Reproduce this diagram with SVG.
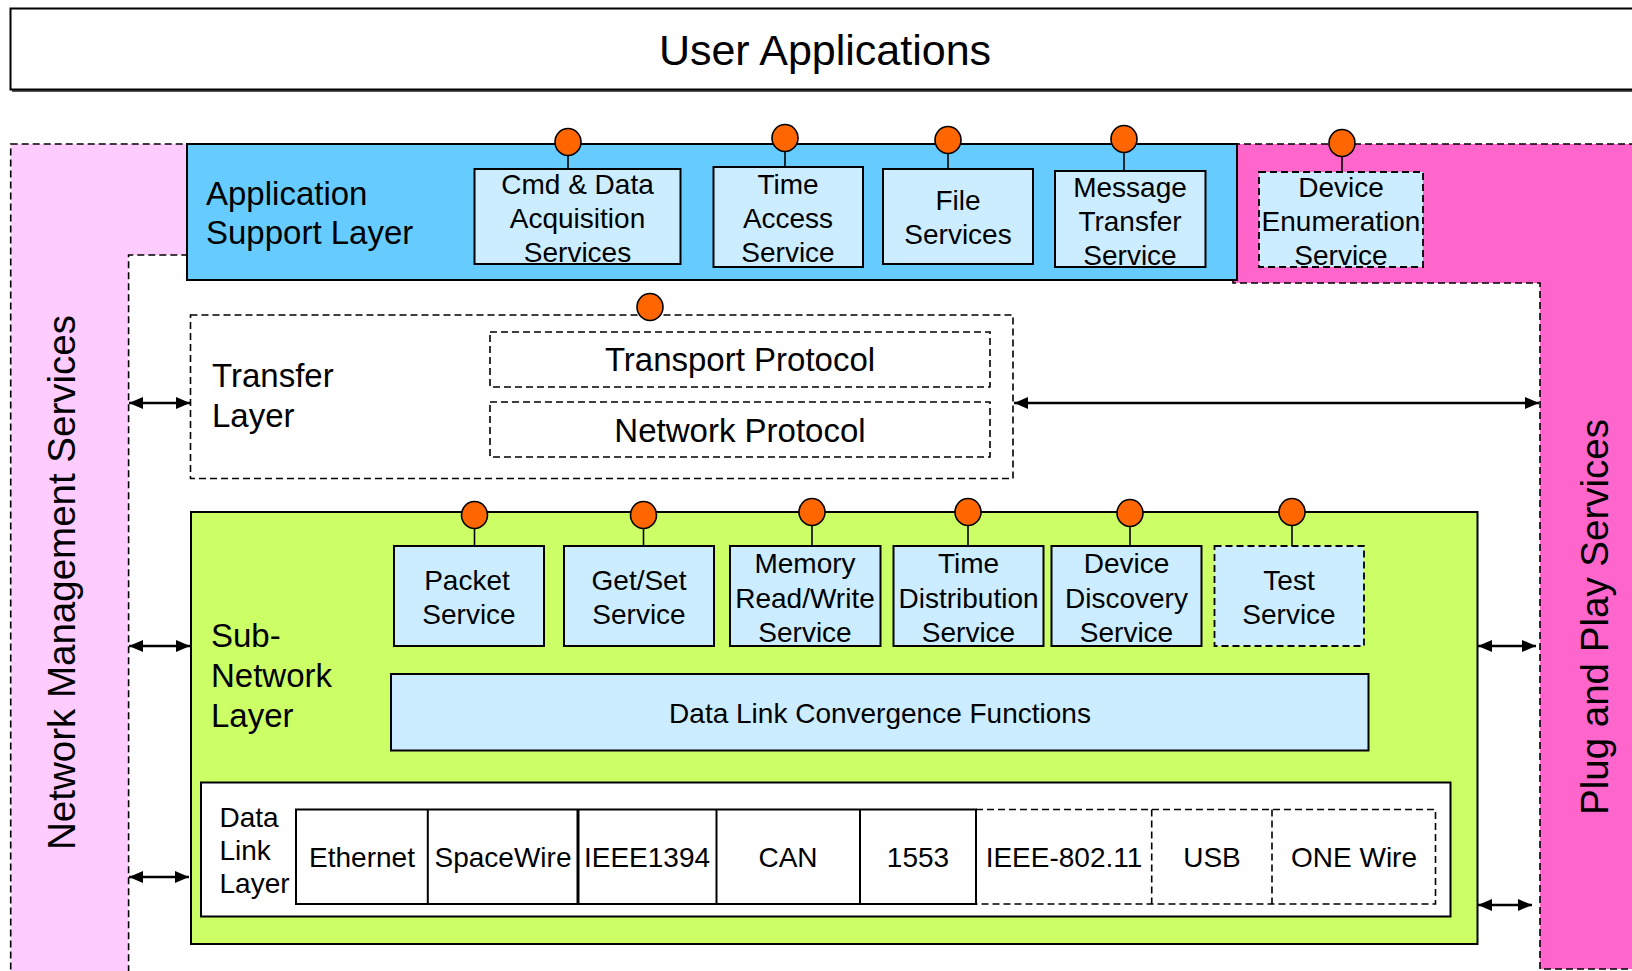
<svg xmlns="http://www.w3.org/2000/svg" width="1632" height="971" viewBox="0 0 1632 971">
<style>
text{font-family:"Liberation Sans",Arial,sans-serif;fill:#000}
.lbl{font-size:33px}
.svc{font-size:28px;text-anchor:middle}
.vert{font-size:38.5px;text-anchor:middle}
.solid{stroke:#000;stroke-width:2}
.dash{stroke:#000;stroke-width:1.6;stroke-dasharray:7,4;fill:none}
.sbox{fill:#CCECFF;stroke:#000;stroke-width:2}
.sboxd{fill:#CCECFF;stroke:#000;stroke-width:1.8;stroke-dasharray:7,4}
.pin{fill:#FF6600;stroke:#000;stroke-width:1.6}
.stem{stroke:#000;stroke-width:1.6}
.arr{stroke:#000;stroke-width:2.4;fill:none;marker-start:url(#ah);marker-end:url(#ah)}
</style>
<defs>
<marker id="ah" viewBox="0 0 14 12" refX="14" refY="6" markerWidth="14" markerHeight="12" markerUnits="userSpaceOnUse" orient="auto-start-reverse">
<path d="M0,0 L14,6 L0,12 z" fill="#000"/>
</marker>
</defs>
<rect width="1632" height="971" fill="#fff"/>

<g id="network-management">
<polygon points="10.7,144 187,144 187,255 128.6,255 128.6,980 10.7,980" class="dash" style="fill:#FFCCFF"/>
<text class="vert" transform="translate(75,582.5) rotate(-90)">Network Management Services</text>
</g>
<g id="plug-and-play">
<polygon points="1233,144 1645,144 1645,969 1540,969 1540,283 1233,283" class="dash" style="fill:#FF66CC"/>
<text class="vert" transform="translate(1608,617) rotate(-90)">Plug and Play Services</text>
</g>

<g id="user-applications">
<line x1="12" y1="91" x2="1640" y2="91" stroke="#555" stroke-width="2"/>
<rect x="10.5" y="8.5" width="1640" height="81" fill="#fff" class="solid"/>
<text x="825" y="65" style="font-size:43px;text-anchor:middle">User Applications</text>
</g>

<g id="application-support-layer">
<rect x="187" y="144" width="1050" height="136" fill="#66CCFF" class="solid"/>
<text class="lbl" x="206" y="205">Application</text>
<text class="lbl" x="206" y="244">Support Layer</text>
</g>

<g id="cmd-data-acquisition">
<line class="stem" x1="568" y1="155" x2="568" y2="169"/>
<ellipse class="pin" cx="568" cy="142" rx="13" ry="13.5"/>
<rect class="sbox" x="474.5" y="169" width="206" height="95"/>
<text class="svc" x="577.5" y="194">Cmd &amp; Data</text>
<text class="svc" x="577.5" y="228">Acquisition</text>
<text class="svc" x="577.5" y="262">Services</text>
</g>
<g id="time-access">
<line class="stem" x1="785" y1="151" x2="785" y2="167"/>
<ellipse class="pin" cx="785" cy="138" rx="13" ry="13.5"/>
<rect class="sbox" x="713.5" y="167" width="149.5" height="100"/>
<text class="svc" x="788" y="194">Time</text>
<text class="svc" x="788" y="228">Access</text>
<text class="svc" x="788" y="262">Service</text>
</g>
<g id="file-services">
<line class="stem" x1="948" y1="153" x2="948" y2="169"/>
<ellipse class="pin" cx="948" cy="140" rx="13" ry="13.5"/>
<rect class="sbox" x="883" y="169" width="150" height="95"/>
<text class="svc" x="958" y="210">File</text>
<text class="svc" x="958" y="244">Services</text>
</g>
<g id="message-transfer">
<line class="stem" x1="1124" y1="152" x2="1124" y2="171"/>
<ellipse class="pin" cx="1124" cy="139" rx="13" ry="13.5"/>
<rect class="sbox" x="1055" y="171" width="150.5" height="96"/>
<text class="svc" x="1130" y="197">Message</text>
<text class="svc" x="1130" y="231">Transfer</text>
<text class="svc" x="1130" y="265">Service</text>
</g>
<g id="device-enumeration">
<line class="stem" x1="1342" y1="156" x2="1342" y2="172"/>
<ellipse class="pin" cx="1342" cy="143" rx="13" ry="13.5"/>
<rect class="sboxd" x="1259" y="172" width="164" height="95"/>
<text class="svc" x="1341" y="197">Device</text>
<text class="svc" x="1341" y="231">Enumeration</text>
<text class="svc" x="1341" y="265">Service</text>
</g>

<g id="transfer-layer">
<rect class="dash" x="190.5" y="315" width="822.5" height="163.5"/>
<ellipse class="pin" cx="650" cy="307" rx="13" ry="13.5"/>
<text class="lbl" x="212" y="387">Transfer</text>
<text class="lbl" x="212" y="427">Layer</text>
</g>
<g id="transport-protocol">
<rect class="dash" x="490" y="332" width="500" height="55"/>
<text class="lbl" x="740" y="371" text-anchor="middle">Transport Protocol</text>
</g>
<g id="network-protocol">
<rect class="dash" x="490" y="402" width="500" height="55"/>
<text class="lbl" x="740" y="442" text-anchor="middle">Network Protocol</text>
</g>

<g id="sub-network-layer">
<rect x="191" y="512" width="1286.5" height="432" fill="#CCFF66" class="solid"/>
<text class="lbl" x="211" y="647">Sub-</text>
<text class="lbl" x="211" y="687">Network</text>
<text class="lbl" x="211" y="727">Layer</text>
</g>
<g id="packet-service">
<line class="stem" x1="474.5" y1="528" x2="474.5" y2="546"/>
<ellipse class="pin" cx="474.5" cy="515" rx="13" ry="13.5"/>
<rect class="sbox" x="394" y="546" width="150" height="100"/>
<text class="svc" x="467" y="590">Packet</text>
<text class="svc" x="469" y="624">Service</text>
</g>
<g id="get-set-service">
<line class="stem" x1="643.5" y1="528" x2="643.5" y2="546"/>
<ellipse class="pin" cx="643.5" cy="515" rx="13" ry="13.5"/>
<rect class="sbox" x="564" y="546" width="150" height="100"/>
<text class="svc" x="639" y="590">Get/Set</text>
<text class="svc" x="639" y="624">Service</text>
</g>
<g id="memory-rw-service">
<line class="stem" x1="812" y1="525" x2="812" y2="546"/>
<ellipse class="pin" cx="812" cy="512" rx="13" ry="13.5"/>
<rect class="sbox" x="730" y="546" width="150.5" height="100"/>
<text class="svc" x="805" y="573">Memory</text>
<text class="svc" x="805" y="608">Read/Write</text>
<text class="svc" x="805" y="642">Service</text>
</g>
<g id="time-distribution-service">
<line class="stem" x1="968" y1="525" x2="968" y2="546"/>
<ellipse class="pin" cx="968" cy="512" rx="13" ry="13.5"/>
<rect class="sbox" x="893.5" y="546" width="150" height="100"/>
<text class="svc" x="968.5" y="573">Time</text>
<text class="svc" x="968.5" y="608">Distribution</text>
<text class="svc" x="968.5" y="642">Service</text>
</g>
<g id="device-discovery-service">
<line class="stem" x1="1130" y1="526" x2="1130" y2="546"/>
<ellipse class="pin" cx="1130" cy="513" rx="13" ry="13.5"/>
<rect class="sbox" x="1051.5" y="546" width="150" height="100"/>
<text class="svc" x="1126.5" y="573">Device</text>
<text class="svc" x="1126.5" y="608">Discovery</text>
<text class="svc" x="1126.5" y="642">Service</text>
</g>
<g id="test-service">
<line class="stem" x1="1292" y1="525" x2="1292" y2="546"/>
<ellipse class="pin" cx="1292" cy="512" rx="13" ry="13.5"/>
<rect class="sboxd" x="1214.5" y="546" width="149.5" height="100"/>
<text class="svc" x="1289" y="590">Test</text>
<text class="svc" x="1289" y="624">Service</text>
</g>
<g id="data-link-convergence">
<rect class="sbox" x="391" y="674" width="977.5" height="76.5"/>
<text class="svc" x="880" y="723">Data Link Convergence Functions</text>
</g>

<g id="data-link-layer">
<rect x="201" y="782.5" width="1249.5" height="134" fill="#fff" class="solid"/>
<text x="219.5" y="827" style="font-size:28px">Data</text>
<text x="219.5" y="860" style="font-size:28px">Link</text>
<text x="219.5" y="893" style="font-size:28px">Layer</text>
</g>
<g id="data-link-protocols">
<rect x="296" y="809.5" width="680" height="94.5" fill="#fff" class="solid"/>
<line class="solid" x1="427.8" y1="809.5" x2="427.8" y2="904"/>
<line x1="578" y1="809.5" x2="578" y2="904" stroke="#000" stroke-width="3"/>
<line class="solid" x1="716.5" y1="809.5" x2="716.5" y2="904"/>
<line class="solid" x1="860" y1="809.5" x2="860" y2="904"/>
<path class="dash" d="M976,809.5 H1435.5 V904 H976 M1151.7,809.5 V904 M1272,809.5 V904"/>
<text class="svc" x="362" y="867">Ethernet</text>
<text class="svc" x="503" y="867">SpaceWire</text>
<text class="svc" x="647" y="867">IEEE1394</text>
<text class="svc" x="788" y="867">CAN</text>
<text class="svc" x="918" y="867">1553</text>
<text class="svc" x="1064" y="867">IEEE-802.11</text>
<text class="svc" x="1212" y="867">USB</text>
<text class="svc" x="1354" y="867">ONE Wire</text>
</g>

<g id="connectors">
<line class="arr" x1="129" y1="403" x2="190" y2="403"/>
<line class="arr" x1="1014" y1="403" x2="1539" y2="403"/>
<line class="arr" x1="129" y1="646" x2="190" y2="646"/>
<line class="arr" x1="1478" y1="646" x2="1536" y2="646"/>
<line class="arr" x1="129" y1="877" x2="189" y2="877"/>
<line class="arr" x1="1478" y1="905" x2="1532" y2="905"/>
</g>
</svg>
